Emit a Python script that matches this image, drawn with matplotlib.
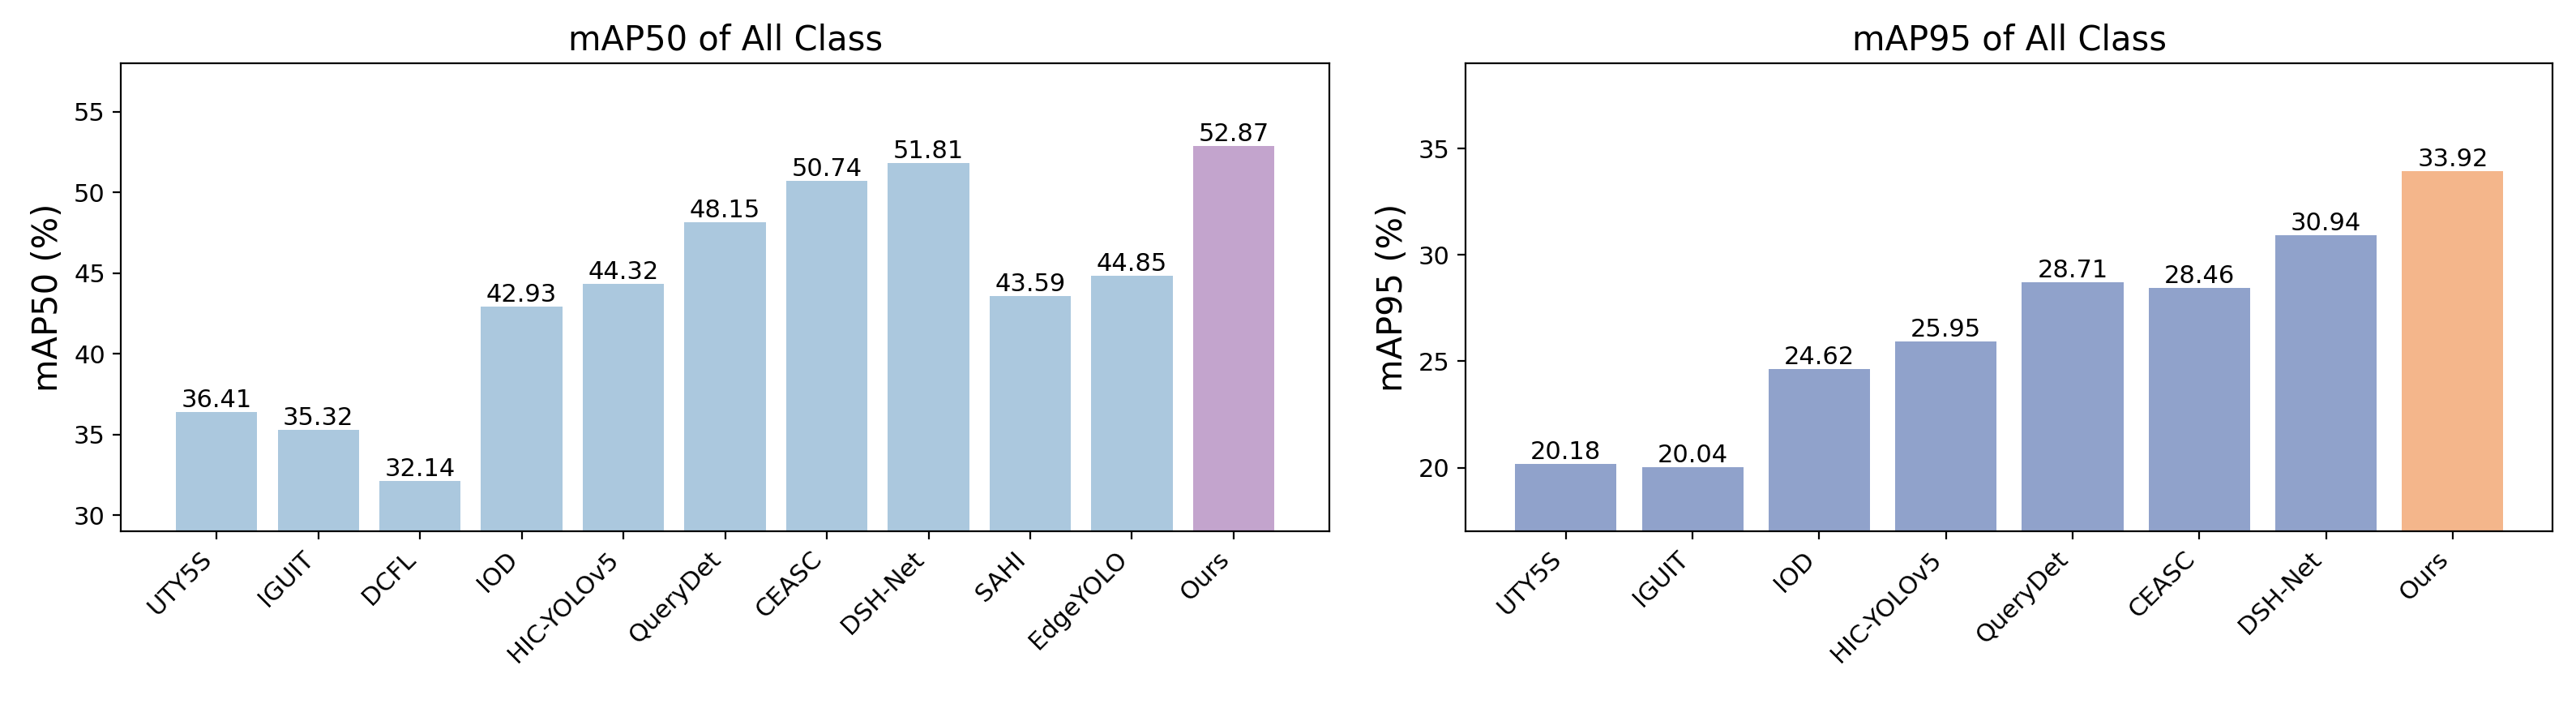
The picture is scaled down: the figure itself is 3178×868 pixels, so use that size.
import matplotlib.pyplot as plt

left_names = ['UTY5S', 'IGUIT', 'DCFL', 'IOD', 'HIC-YOLOv5', 'QueryDet', 'CEASC',
              'DSH-Net', 'SAHI', 'EdgeYOLO', 'Ours']
left_vals = [36.41, 35.32, 32.14, 42.93, 44.32, 48.15, 50.74, 51.81, 43.59, 44.85, 52.87]
right_names = ['UTY5S', 'IGUIT', 'IOD', 'HIC-YOLOv5', 'QueryDet', 'CEASC', 'DSH-Net', 'Ours']
right_vals = [20.18, 20.04, 24.62, 25.95, 28.71, 28.46, 30.94, 33.92]

fig = plt.figure(figsize=(15.89, 4.34), dpi=200)
ax1 = fig.add_axes([0.047, 0.245, 0.469, 0.665])
ax2 = fig.add_axes([0.569, 0.245, 0.422, 0.665])

def draw(ax, names, vals, c, c_ours, ylim, yticks, title, ylabel):
    colors = [c] * (len(vals) - 1) + [c_ours]
    bars = ax.bar(names, vals, color=colors, width=0.8)
    for b, v in zip(bars, vals):
        ax.text(b.get_x() + b.get_width() / 2, v, f'{v:.2f}', ha='center', va='bottom', fontsize=11)
    ax.set_ylim(*ylim)
    ax.set_yticks(yticks)
    ax.set_title(title, fontsize=15)
    ax.set_ylabel(ylabel, fontsize=15)
    ax.tick_params(labelsize=11)
    plt.setp(ax.get_xticklabels(), rotation=45, ha='right')

draw(ax1, left_names, left_vals, '#abc8de', '#c3a4cd', (29, 58), [30, 35, 40, 45, 50, 55],
     'mAP50 of All Class', 'mAP50 (%)')
draw(ax2, right_names, right_vals, '#90a2cb', '#f4b68b', (17, 39), [20, 25, 30, 35],
     'mAP95 of All Class', 'mAP95 (%)')

fig.savefig('out.png', dpi=200)
